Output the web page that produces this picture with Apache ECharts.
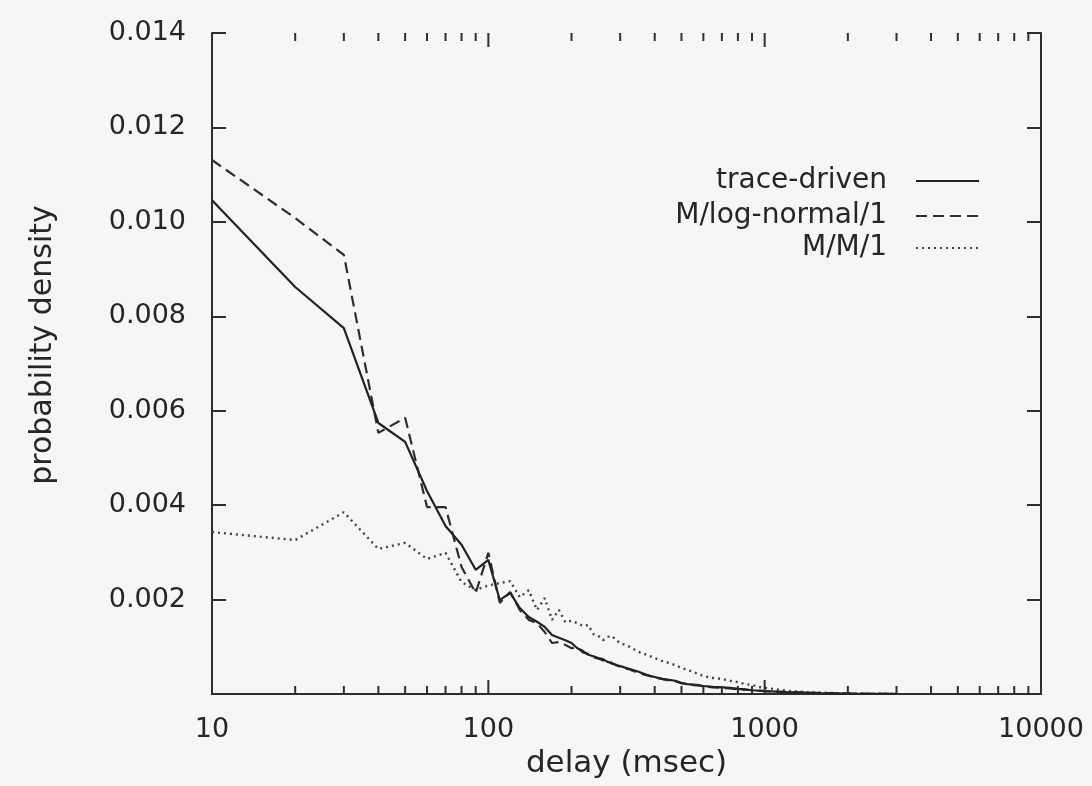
<!DOCTYPE html>
<html>
<head>
<meta charset="utf-8">
<script src="https://cdn.jsdelivr.net/npm/echarts@6/dist/echarts.min.js"></script>
<style>
html,body{margin:0;padding:0;background:#f7f5f7;}
#chart{width:1092px;height:786px;}
</style>
</head>
<body>
<div id="chart"></div>
<script>
// delay bins (msec)
const delays = [10,20,30,40,50,60,70,80,90,100,110,120,130,140,150,160,170,180,190,200,210,220,230,240,250,260,270,280,290,300,325,350,375,400,425,450,475,500,525,550,575,600,650,700,750,800,850,900,950,1000,1100,1200,1400,1600,1800,2000,2500,3000];

const traceDriven = [0.01046,0.00862,0.00775,0.00574,0.00534,0.00430,0.00356,0.00316,0.00263,0.00284,
0.00199,0.00214,0.00182,0.00163,0.00153,0.00142,0.00125,0.00119,0.00114,0.00108,
0.00097,0.00091,0.00083,0.00080,0.00076,0.00074,0.00068,0.00066,0.00061,0.00059,
0.00053,0.00047,0.00040,0.00036,0.00032,0.00030,0.00028,0.00023,0.00021,0.00020,0.00019,0.00017,
0.00015,0.00014,0.00013,0.00011,0.00010,0.00008,0.00007,0.00006,
0.00005,0.00004,0.00003,0.00002,0.000015,0.00001,0.000005,0.000002];

const logNormal = [0.01131,0.01008,0.00930,0.00553,0.00585,0.00396,0.00396,0.00269,0.00214,0.00299,
0.00193,0.00216,0.00178,0.00157,0.00150,0.00131,0.00108,0.00110,0.00104,0.00097,
0.00099,0.00088,0.00085,0.00078,0.00075,0.00071,0.00069,0.00064,0.00062,0.00057,
0.00052,0.00044,0.00040,0.00035,0.00032,0.00029,0.00027,0.00023,0.00021,0.00019,0.00018,0.00016,
0.00014,0.00013,0.00012,0.00010,0.00009,0.00008,0.00007,0.00006,
0.00005,0.00004,0.00003,0.00002,0.000015,0.00001,0.000005,0.000002];

const mm1 = [0.00343,0.00326,0.00385,0.00307,0.00320,0.00286,0.00299,0.00237,0.00220,0.00230,
0.00235,0.00239,0.00205,0.00220,0.00178,0.00203,0.00157,0.00178,0.00152,0.00155,
0.00150,0.00144,0.00146,0.00127,0.00123,0.00114,0.00121,0.00123,0.00114,0.00108,
0.00100,0.00089,0.00083,0.00076,0.00070,0.00066,0.00061,0.00055,0.00051,0.00047,0.00042,0.00038,
0.00034,0.00032,0.00028,0.00025,0.00021,0.00019,0.00015,0.00013,
0.00010,0.00007,0.00004,0.00003,0.00002,0.000015,0.000006,0.000002];

// x-axis tick positions (decades = major, others = minor)
const majorTicks = [10,100,1000,10000];
const minorTicks = [20,30,40,50,60,70,80,90,200,300,400,500,600,700,800,900,2000,3000,4000,5000,6000,7000,8000,9000];

const seriesNames = ['trace-driven','M/log-normal/1','M/M/1'];

const FONT = 'DejaVu Sans';
const AX = '#2e2e2e';
const TXT = '#262626';
const X_MIN = 10, X_MAX = 10000, Y_MIN = 0, Y_MAX = 0.014;

function pairs(vals){ return delays.map((d,i)=>[d, vals[i]]); }

const chart = echarts.init(document.getElementById('chart'));

const axisCommon = {
  axisLine:{show:true, lineStyle:{color:AX, width:2}},
  splitLine:{show:false}
};

function legendAt(name, top){
  return {
    data:[name], orient:'vertical', align:'right', right:112, top:top,
    itemWidth:63, itemHeight:14, padding:0, selectedMode:false,
    itemStyle:{color:'rgba(0,0,0,0)', borderColor:'rgba(0,0,0,0)', borderWidth:0, opacity:0},
    textStyle:{fontFamily:FONT, fontSize:28, color:TXT, padding:[0,24,0,0]}
  };
}

// tick marks: [position, tick length]
const tickData = majorTicks.map(v => [v, 14]).concat(minorTicks.map(v => [v, 8]));

chart.setOption({
  backgroundColor:'#f7f5f7',
  animation:false,
  grid:{left:212, right:51, top:33, bottom:92},
  legend:[legendAt(seriesNames[0],167), legendAt(seriesNames[1],202), legendAt(seriesNames[2],234)],
  xAxis:[
    Object.assign({
      type:'log', logBase:10, min:X_MIN, max:X_MAX, position:'bottom',
      name:'delay (msec)', nameLocation:'middle', nameGap:54,
      nameTextStyle:{fontFamily:FONT, fontSize:31, color:TXT},
      axisTick:{show:false},
      axisLabel:{show:true, margin:22, fontFamily:FONT, fontSize:27, color:TXT,
        formatter:v => String(Math.round(v))}
    }, axisCommon),
    Object.assign({
      type:'log', logBase:10, min:X_MIN, max:X_MAX, position:'top',
      axisTick:{show:false},
      axisLabel:{show:false}
    }, axisCommon)
  ],
  yAxis:[
    Object.assign({
      type:'value', min:Y_MIN, max:Y_MAX, interval:0.002, position:'left',
      axisTick:{show:true, inside:true, length:14, lineStyle:{color:AX, width:2}},
      axisLabel:{show:true, margin:26, fontFamily:FONT, fontSize:27, color:TXT,
        formatter:v => v === 0 ? '' : v.toFixed(3)}
    }, axisCommon),
    Object.assign({
      type:'value', min:Y_MIN, max:Y_MAX, interval:0.002, position:'right',
      axisTick:{show:true, inside:true, length:14, lineStyle:{color:AX, width:2}},
      axisLabel:{show:false}
    }, axisCommon)
  ],
  graphic:[{
    type:'text', x:43, y:345, rotation:Math.PI/2,
    style:{text:'probability density', font:'30px "DejaVu Sans"', fill:TXT,
      textAlign:'center', textVerticalAlign:'middle'}
  }],
  series:[
    {
      name:seriesNames[0], type:'line', data:pairs(traceDriven), symbol:'none', showSymbol:false,
      lineStyle:{color:'#222222', width:2.2, type:'solid'}, itemStyle:{color:'#222222'}, z:5
    },
    {
      name:seriesNames[1], type:'line', data:pairs(logNormal), symbol:'none', showSymbol:false,
      lineStyle:{color:'#2e2e2e', width:2.2, type:[11,6]}, itemStyle:{color:'#2e2e2e'}, z:4
    },
    {
      name:seriesNames[2], type:'line', data:pairs(mm1), symbol:'none', showSymbol:false,
      lineStyle:{color:'#444444', width:2.4, type:[2,4]}, itemStyle:{color:'#444444'}, z:3
    },
    {
      type:'custom', silent:true, clip:false, z:10,
      data:tickData,
      renderItem:function(params, api){
        const x = api.coord([api.value(0), Y_MAX])[0];
        const len = api.value(1);
        const cs = params.coordSys;
        const yTop = cs.y, yBot = cs.y + cs.height;
        const st = {stroke:AX, lineWidth:2};
        return {type:'group', children:[
          {type:'polyline', shape:{points:[[x, yBot], [x, yBot - len]]}, style:st},
          {type:'polyline', shape:{points:[[x, yTop], [x, yTop + len]]}, style:st}
        ]};
      }
    }
  ]
});
</script>
</body>
</html>
